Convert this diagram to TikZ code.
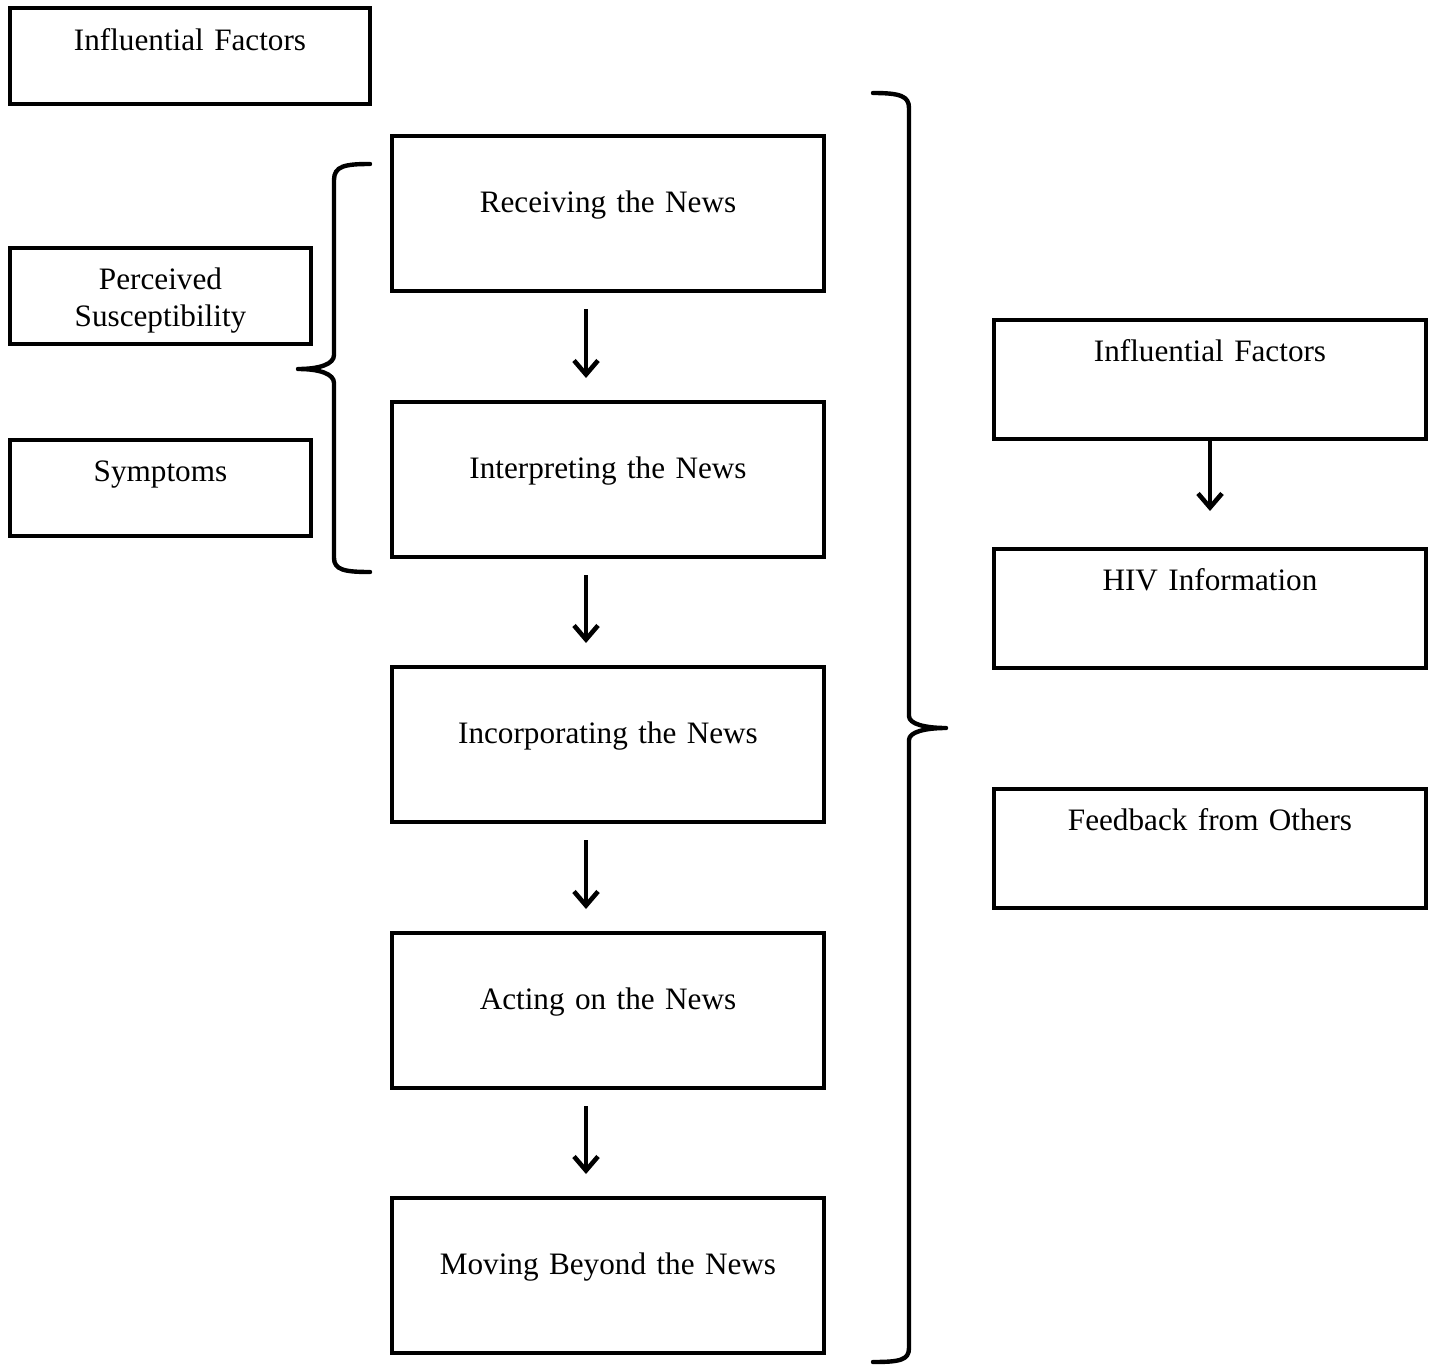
\documentclass[tikz,border=0pt]{standalone}
\usepackage{fontspec}
\setmainfont{Liberation Serif}
\usetikzlibrary{arrows.meta}

\tikzset{
  box/.style={draw, line width=2pt, anchor=north west, inner sep=0pt, align=center},
  stage/.style={box, text width=216pt, text height=38pt, text depth=39.5pt},
  factor/.style={box, text width=216pt, text height=20.5pt, text depth=39pt},
  side/.style={box, text width=150.5pt, text height=20.5pt, text depth=27.5pt},
  flow/.style={line width=2.3pt, -{Straight Barb[length=7pt,width=12pt]}},
  brace/.style={line width=2.2pt, line join=round, line cap=round}
}

\begin{document}
\begin{tikzpicture}[x=0.5pt, y=-0.5pt, font=\fontsize{15.6}{18.5}\selectfont]
  \useasboundingbox (0,0) rectangle (1436,1365);

  % left column
  \node[box, text width=180pt, text height=21pt, text depth=27pt] (inf) at (8,6) {Influential Factors};
  \node[side] (sus) at (8,246) {Perceived\\Susceptibility};
  \node[side] (sym) at (8,438) {Symptoms};

  % stages
  \node[stage] (rec) at (390,134) {Receiving the News};
  \node[stage] (int) at (390,400) {Interpreting the News};
  \node[stage] (inc) at (390,665) {Incorporating the News};
  \node[stage] (act) at (390,931) {Acting on the News};
  \node[stage] (mov) at (390,1196) {Moving Beyond the News};

  % right column
  \node[factor] (rinf) at (992,318) {Influential Factors};
  \node[factor] (hiv) at (992,547) {HIV Information};
  \node[factor] (fb) at (992,787) {Feedback from Others};

  \draw[flow, shorten <=8pt, shorten >=11pt] ([xshift=-11pt]rec.south) -- ([xshift=-11pt]int.north);
  \draw[flow, shorten <=8pt, shorten >=11pt] ([xshift=-11pt]int.south) -- ([xshift=-11pt]inc.north);
  \draw[flow, shorten <=8pt, shorten >=11pt] ([xshift=-11pt]inc.south) -- ([xshift=-11pt]act.north);
  \draw[flow, shorten <=8pt, shorten >=11pt] ([xshift=-11pt]act.south) -- ([xshift=-11pt]mov.north);
  \draw[flow, shorten >=18pt] (rinf) -- (hiv);

  % braces
  \coordinate (L1) at (370,164);
  \coordinate (L2) at (298,369);
  \coordinate (L3) at (370,572);
  \draw[brace] (L1) .. controls (345,164) and (334,166) .. (334,180) -- (334,355)
    .. controls (334,364) and (320,369) .. (L2)
    .. controls (320,369) and (334,374) .. (334,383) -- (334,558)
    .. controls (334,570) and (345,572) .. (L3);

  \coordinate (R1) at (873,93);
  \coordinate (R2) at (946,728);
  \coordinate (R3) at (873,1362);
  \draw[brace] (R1) .. controls (900,93) and (909,96) .. (909,108) -- (909,716)
    .. controls (909,724) and (925,728) .. (R2)
    .. controls (925,728) and (909,732) .. (909,740) -- (909,1348)
    .. controls (909,1360) and (900,1362) .. (R3);
\end{tikzpicture}
\end{document}
